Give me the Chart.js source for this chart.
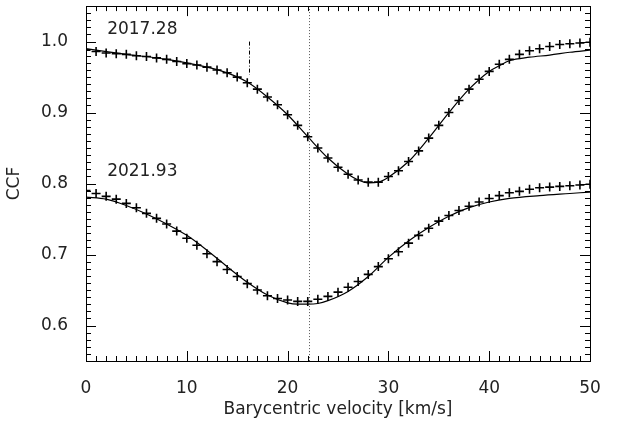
<!DOCTYPE html>
<html>
<head>
<meta charset="utf-8">
<script src="https://cdn.jsdelivr.net/npm/chart.js@4.4.1/dist/chart.umd.min.js"></script>
<style>
  html, body { margin: 0; padding: 0; background: #fff; }
  #wrap { width: 618px; height: 424px; position: relative; }
</style>
</head>
<body>
<div id="wrap"><canvas id="ccf"></canvas></div>
<script>
// velocidades (km/s) de los puntos observados
const velocidades = [0,1,2,3,4,5,6,7,8,9,10,11,12,13,14,15,16,17,18,19,20,21,22,23,24,25,
  26,27,28,29,30,31,32,33,34,35,36,37,38,39,40,41,42,43,44,45,46,47,48,49,50];

// CCF observada, época 2017.28
const ccf2017 = [0.988,0.986,0.984,0.983,0.982,0.980,0.979,0.977,0.975,0.972,0.969,0.967,0.964,0.960,
  0.956,0.950,0.942,0.933,0.922,0.911,0.897,0.882,0.866,0.850,0.836,0.823,0.813,0.805,0.802,0.802,
  0.810,0.818,0.831,0.846,0.864,0.882,0.900,0.917,0.933,0.947,0.958,0.968,0.975,0.982,0.987,0.990,
  0.993,0.996,0.997,0.998,0.999];

// CCF observada, época 2021.93
const ccf2021 = [0.790,0.786,0.782,0.778,0.772,0.766,0.758,0.751,0.743,0.733,0.723,0.713,0.701,0.690,
  0.679,0.669,0.659,0.650,0.642,0.638,0.636,0.634,0.634,0.637,0.641,0.647,0.654,0.662,0.672,0.683,
  0.694,0.704,0.716,0.727,0.737,0.747,0.755,0.762,0.768,0.774,0.779,0.783,0.787,0.789,0.792,0.794,
  0.795,0.796,0.797,0.798,0.799];

// curvas de ajuste
const ajusteX2017 = [0,4,8,12,14,16,18,20,22,24,26,27,28,29,30,32,34,36,38,40,41,42,44,46,48,50];
const ajuste2017  = [0.990,0.982,0.975,0.964,0.956,0.943,0.922,0.897,0.866,0.836,0.813,0.805,0.801,
  0.802,0.809,0.831,0.864,0.900,0.933,0.958,0.966,0.973,0.978,0.981,0.985,0.988];

const ajusteX2021 = [0,2,4,6,8,10,12,14,16,18,20,21,22,23,24,26,28,30,32,34,36,38,40,42,45,48,50];
const ajuste2021  = [0.781,0.778,0.769,0.757,0.743,0.727,0.706,0.683,0.661,0.643,0.632,0.630,0.630,
  0.631,0.635,0.648,0.669,0.696,0.719,0.738,0.754,0.766,0.774,0.779,0.783,0.786,0.788];

const xTicks = [0, 10, 20, 30, 40, 50];
const yTicks = [0.6, 0.7, 0.8, 0.9, 1.0];
const epocas = ['2017.28', '2021.93'];
const epocaPos = [[2.1, 1.0175], [2.1, 0.8175]];
const velSistema = 22.15;     // línea punteada
const marcaVel = 16.17;       // segmento punto-raya
const marcaRango = [0.953, 1.0];

const FONT = 'DejaVu Sans';
const TXT = '#222';

function pares(xs, ys) { return xs.map((x, i) => ({ x, y: ys[i] })); }

const ejesIDL = {
  id: 'ejesIDL',
  afterDraw(chart) {
    const { ctx, chartArea: a, scales: { x, y } } = chart;
    ctx.save();
    ctx.strokeStyle = '#000';
    ctx.lineWidth = 1;

    // línea vertical punteada
    ctx.setLineDash([1, 2]);
    ctx.strokeStyle = '#555';
    const xs = Math.round(x.getPixelForValue(velSistema)) + 0.5;
    ctx.beginPath(); ctx.moveTo(xs, a.top); ctx.lineTo(xs, a.bottom); ctx.stroke();

    // segmento punto-raya
    ctx.strokeStyle = '#000';
    ctx.setLineDash([4, 2, 1, 2]);
    const xm = Math.round(x.getPixelForValue(marcaVel)) + 0.5;
    ctx.beginPath();
    ctx.moveTo(xm, y.getPixelForValue(marcaRango[1]));
    ctx.lineTo(xm, y.getPixelForValue(marcaRango[0]));
    ctx.stroke();
    ctx.setLineDash([]);

    // marco
    ctx.strokeRect(Math.round(a.left) + 0.5, Math.round(a.top) + 0.5,
      Math.round(a.right - a.left), Math.round(a.bottom - a.top));

    // ticks hacia dentro
    ctx.beginPath();
    for (let v = 0; v <= 50; v++) {
      const len = v % 10 === 0 ? 10 : 5;
      const px = Math.round(x.getPixelForValue(v)) + 0.5;
      ctx.moveTo(px, a.bottom); ctx.lineTo(px, a.bottom - len);
      ctx.moveTo(px, a.top); ctx.lineTo(px, a.top + len);
    }
    for (let k = 55; k <= 105; k++) {
      const v = k / 100;
      const len = k % 10 === 0 ? 10 : 5;
      const py = Math.round(y.getPixelForValue(v)) + 0.5;
      ctx.moveTo(a.left, py); ctx.lineTo(a.left + len, py);
      ctx.moveTo(a.right, py); ctx.lineTo(a.right - len, py);
    }
    ctx.stroke();

    // etiquetas de época
    ctx.fillStyle = TXT;
    ctx.font = `17px "${FONT}"`;
    ctx.textBaseline = 'middle';
    ctx.textAlign = 'left';
    epocas.forEach((t, i) => {
      ctx.fillText(t, x.getPixelForValue(epocaPos[i][0]), y.getPixelForValue(epocaPos[i][1]));
    });
    ctx.restore();
  }
};

new Chart(document.getElementById('ccf'), {
  type: 'scatter',
  data: {
    datasets: [
      { data: pares(velocidades, ccf2017), pointStyle: 'cross', pointRadius: 4.5, borderColor: '#000', borderWidth: 1.6, showLine: false },
      { data: pares(velocidades, ccf2021), pointStyle: 'cross', pointRadius: 4.5, borderColor: '#000', borderWidth: 1.6, showLine: false },
      { data: pares(ajusteX2017, ajuste2017), showLine: true, pointRadius: 0, borderColor: '#000', borderWidth: 1.2, cubicInterpolationMode: 'monotone' },
      { data: pares(ajusteX2021, ajuste2021), showLine: true, pointRadius: 0, borderColor: '#000', borderWidth: 1.2, cubicInterpolationMode: 'monotone' }
    ]
  },
  options: {
    responsive: true,
    maintainAspectRatio: false,
    animation: false,
    layout: { padding: { top: 4, right: 28, left: 0, bottom: 0 } },
    plugins: { legend: { display: false }, tooltip: { enabled: false } },
    scales: {
      x: {
        type: 'linear', min: 0, max: 50,
        afterBuildTicks: s => { s.ticks = xTicks.map(v => ({ value: v })); },
        afterFit: s => { s.height = 63; s.paddingLeft = 0; s.paddingRight = 0; },
        grid: { display: false },
        border: { display: false },
        ticks: { color: TXT, font: { family: FONT, size: 17 }, padding: 9, maxRotation: 0 },
        title: { display: true, text: 'Barycentric velocity [km/s]', color: TXT, font: { family: FONT, size: 17 }, padding: { top: 0 } }
      },
      y: {
        type: 'linear', min: 0.55, max: 1.05,
        afterBuildTicks: s => { s.ticks = yTicks.map(v => ({ value: v })); },
        afterFit: s => { s.width = 86; s.paddingTop = 0; s.paddingBottom = 0; },
        grid: { display: false },
        border: { display: false },
        ticks: { color: TXT, font: { family: FONT, size: 17 }, padding: 10, callback: v => v.toFixed(1) },
        title: { display: true, text: 'CCF', color: TXT, font: { family: FONT, size: 17 }, padding: { bottom: 0 } }
      }
    }
  },
  plugins: [ejesIDL]
});
</script>
</body>
</html>
